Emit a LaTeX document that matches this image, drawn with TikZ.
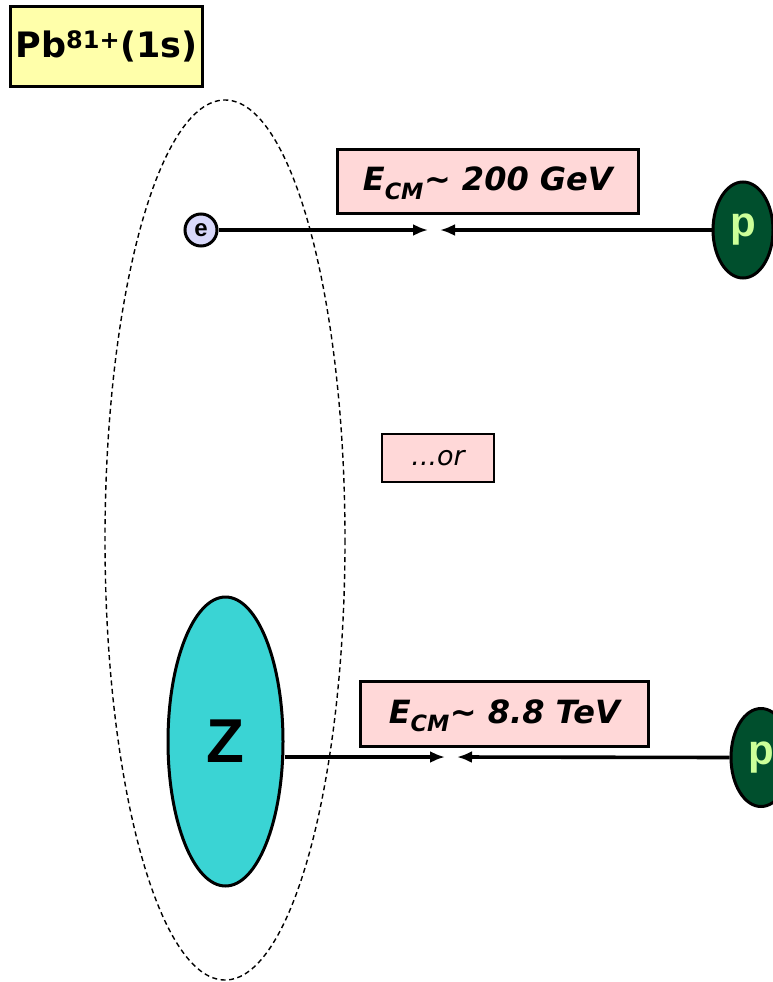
\documentclass[tikz,border=0pt]{standalone}
\usepackage{fontspec}
\setmainfont{DejaVu Sans}
\newfontfamily\arialb{Liberation Sans}[UprightFont=*-Bold]
\usetikzlibrary{shapes.geometric,arrows.meta}
\definecolor{titlefill}{HTML}{FFFFAA}
\definecolor{labfill}{HTML}{FFD8D8}
\definecolor{efill}{HTML}{D8D8FA}
\definecolor{pfill}{HTML}{004F2D}
\definecolor{ptext}{HTML}{CCFF99}
\definecolor{zfill}{HTML}{3AD4D4}
\tikzset{
  labbox/.style={draw=black, line width=2.6pt, fill=labfill, inner sep=0pt, anchor=north west},
  labtext/.style={font=\bfseries\itshape\fontsize{32}{32}\selectfont},
  beam/.style={line width=3.6pt, -{Latex[length=15pt,width=12pt]}},
  pnode/.style={ellipse, draw=black, line width=3pt, fill=pfill, text=ptext, inner sep=0pt, minimum width=60pt, minimum height=96pt, font=\arialb\fontsize{42}{42}\selectfont},
}
\begin{document}
\begin{tikzpicture}[x=1pt,y=-1pt]
\useasboundingbox (0,0) rectangle (773,982);
% title
\node[draw=black, line width=2.8pt, fill=titlefill, anchor=north west, minimum width=192pt, minimum height=80pt, inner sep=0pt,
  font=\bfseries\fontsize{35}{35}\selectfont] (title) at (9,5) {Pb\textsuperscript{\fontsize{24}{24}\selectfont 81+}(1s)};
% dashed orbit
\draw[dash pattern=on 5pt off 3.5pt, line width=1.4pt] (225,540) ellipse [x radius=120, y radius=440];
% label boxes
\node[labbox, minimum width=301pt, minimum height=64pt] (lab1) at (336,148) {};
\node[labtext] at ([yshift=-2pt]lab1.center) {E\textsubscript{\raisebox{-4pt}{CM}}\textasciitilde\ 200 GeV};
\node[labbox, minimum width=112pt, minimum height=48pt, line width=2.2pt] (lab2) at (381,433) {};
\node[font=\itshape\fontsize{27}{27}\selectfont] at (lab2.center) {...or};
\node[labbox, minimum width=288pt, minimum height=65pt] (lab3) at (359,680) {};
\node[labtext] at ([yshift=-2pt]lab3.center) {E\textsubscript{\raisebox{-4pt}{CM}}\textasciitilde\ 8.8 TeV};
% electron and proton 1
\node[circle, draw=black, line width=3pt, fill=efill, inner sep=0pt, minimum size=32pt, font=\arialb\fontsize{24}{24}\selectfont] (e) at (201,230) {e};
\node[pnode] (p1) at (743,230) {p};
\coordinate (m1a) at (428,230);
\coordinate (m1b) at (440,230);
\draw[beam] (e.east) -- (m1a);
\draw[beam] (p1.west) -- (m1b);
% nucleus and proton 2
\node[ellipse, draw=black, line width=3pt, fill=zfill, inner sep=0pt, minimum width=115pt, minimum height=289pt, font=\arialb\fontsize{62}{62}\selectfont] (Z) at (225.5,741.5) {Z};
\node[pnode, minimum height=98pt] (p2) at (761,757.5) {p};
\coordinate (m2a) at (445,757);
\coordinate (m2b) at (457,757);
\draw[beam] (Z.east |- m2a) -- (m2a);
\draw[beam] (p2.west) -- (m2b);
\end{tikzpicture}
\end{document}
